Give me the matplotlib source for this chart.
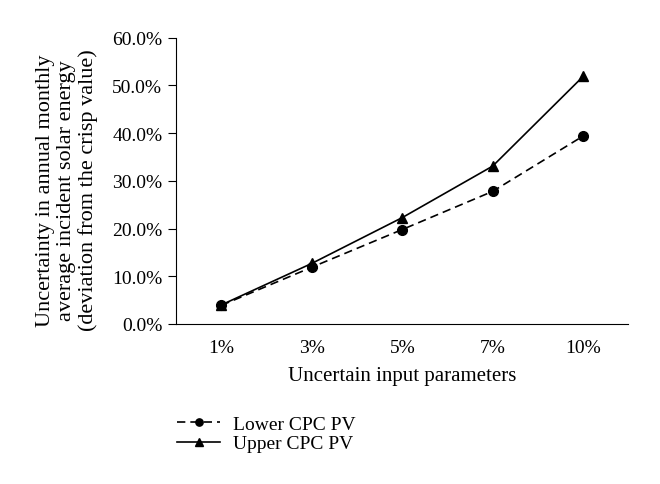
import matplotlib
matplotlib.use('Agg')
import matplotlib.pyplot as plt
from matplotlib.ticker import FuncFormatter

# values
categories = ['1%', '3%', '5%', '7%', '10%']
lower_cpc = [3.9, 11.9, 19.8, 27.8, 39.4]
upper_cpc = [4.0, 12.7, 22.3, 33.1, 51.9]

plt.rcParams['font.family'] = ['Liberation Serif', 'DejaVu Serif']
plt.rcParams['font.size'] = 14

fig = plt.figure(figsize=(6.6, 4.85), dpi=100)
ax = fig.add_axes([0.267, 0.330, 0.685, 0.590])

x = list(range(len(categories)))
ax.plot(x, lower_cpc, color='black', linestyle=(0, (5, 3)), linewidth=1.2,
        marker='o', markersize=7, label='Lower CPC PV')
ax.plot(x, upper_cpc, color='black', linestyle='-', linewidth=1.2,
        marker='^', markersize=7, label='Upper CPC PV')

ax.set_xlim(-0.5, len(categories) - 0.5)
ax.set_ylim(0, 60)
ax.set_yticks(range(0, 61, 10))
ax.yaxis.set_major_formatter(FuncFormatter(lambda v, p: '%.1f%%' % v))
ax.set_xticks(x)
ax.set_xticklabels(categories)
ax.tick_params(axis='x', length=0, pad=11, labelsize=14)
ax.tick_params(axis='y', length=6, direction='out', pad=4, labelsize=14)

ax.spines['top'].set_visible(False)
ax.spines['right'].set_visible(False)

ax.set_xlabel('Uncertain input parameters', fontsize=15, labelpad=7)
ax.set_ylabel('Uncertainty in annual monthly\naverage incident solar energy\n(deviation from the crisp value)',
              fontsize=16, linespacing=1.15)
ax.yaxis.set_label_coords(-0.173, 0.47)

fig.legend(loc='upper left', bbox_to_anchor=(0.257, 0.158), frameon=False, fontsize=14,
           handlelength=2.2, handletextpad=0.65, labelspacing=0.1, borderaxespad=0,
           markerscale=0.75)

fig.savefig('out.png', dpi=100)
